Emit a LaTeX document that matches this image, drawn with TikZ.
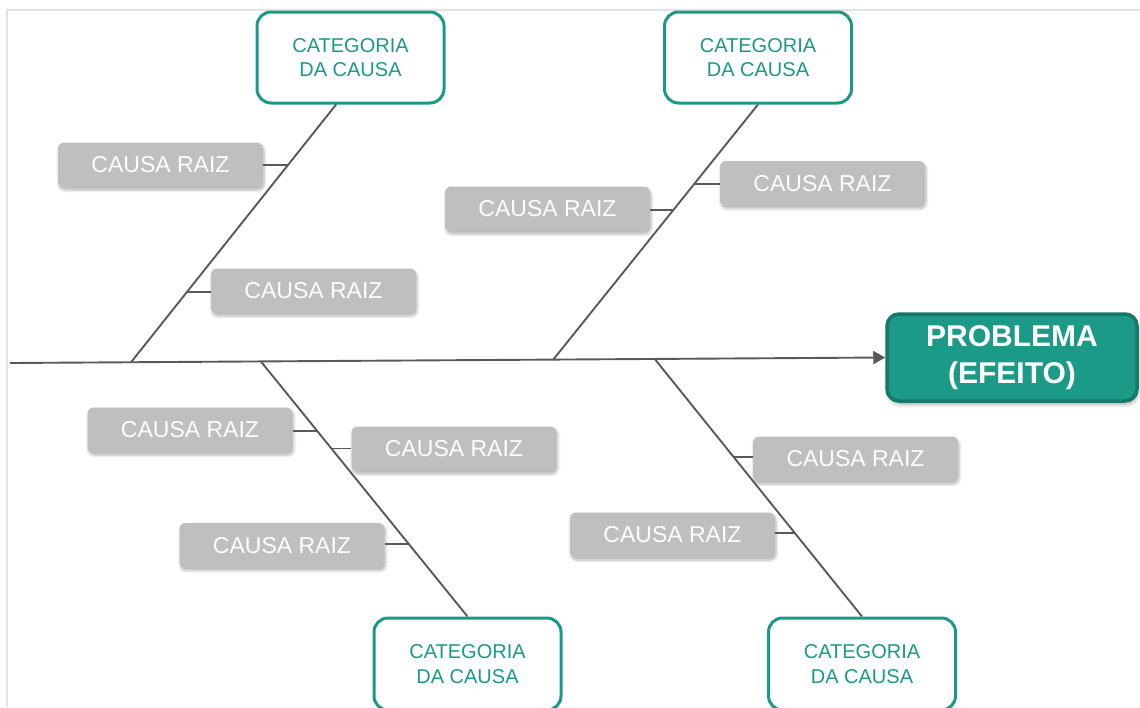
\documentclass[tikz,border=0pt]{standalone}
\usepackage{fontspec}
\setmainfont{Liberation Sans}
\usetikzlibrary{arrows.meta,calc,shadows.blur}

\definecolor{teal}{HTML}{1A9A86}
\definecolor{tealdark}{HTML}{16786A}
\definecolor{tealfill}{HTML}{1C9A88}
\definecolor{bone}{HTML}{595959}
\definecolor{causegray}{HTML}{BFBFBF}
\definecolor{frame}{HTML}{E4E4E4}

\begin{document}
\begin{tikzpicture}[x=1pt,y=-1pt,
  category/.style={draw=teal, line width=3pt, fill=white, rounded corners=14pt,
    minimum width=187pt, minimum height=91pt, align=center, text=teal,
    font=\fontsize{20}{24.5}\selectfont, inner sep=0pt},
  rootcause/.style={fill=causegray, rounded corners=6pt,
    minimum width=205pt, minimum height=45pt, text=white,
    font=\fontsize{23}{27}\selectfont, inner sep=0pt,
    blur shadow={shadow xshift=1pt, shadow yshift=-2.5pt, shadow blur radius=3pt,
      shadow blur steps=6, shadow opacity=30}},
  effect/.style={draw=tealdark, line width=3.5pt, fill=tealfill, rounded corners=12pt,
    minimum width=250pt, minimum height=87pt, align=center, text=white,
    font=\fontsize{30}{37}\selectfont\bfseries, inner sep=0pt,
    blur shadow={shadow xshift=1pt, shadow yshift=-3pt, shadow blur radius=4pt,
      shadow blur steps=6, shadow opacity=35}},
  boneline/.style={draw=bone, line width=1.9pt},
  stub/.style={draw=bone, line width=1.9pt}]

\useasboundingbox (0,0) rectangle (1140,707);

% light frame along the top and left edges
\draw[frame, line width=2pt] (7,707) -- (7,9.5) -- (1140,9.5);

% effect box at the head of the fish
\node[effect] (prob) at (1012,357.5) {PROBLEMA\\(EFEITO)};

% category boxes
\node[category] (cat1) at (350.5,57.5) {CATEGORIA\\DA CAUSA};
\node[category] (cat2) at (758,57.5) {CATEGORIA\\DA CAUSA};
\node[category, minimum height=92pt] (cat3) at (467.5,664) {CATEGORIA\\DA CAUSA};
\node[category, minimum height=92pt] (cat4) at (862,664) {CATEGORIA\\DA CAUSA};

% root cause boxes
\node[rootcause] (rc1) at (160.5,165) {CAUSA RAIZ};
\node[rootcause] (rc2) at (313.5,291) {CAUSA RAIZ};
\node[rootcause] (rc3) at (547.5,209) {CAUSA RAIZ};
\node[rootcause] (rc4) at (822.5,183.5) {CAUSA RAIZ};
\node[rootcause] (rc5) at (190,430) {CAUSA RAIZ};
\node[rootcause] (rc6) at (454,449) {CAUSA RAIZ};
\node[rootcause] (rc7) at (282,545.5) {CAUSA RAIZ};
\node[rootcause] (rc8) at (855.5,459) {CAUSA RAIZ};
\node[rootcause] (rc9) at (672.5,535) {CAUSA RAIZ};

% spine
\coordinate (tail) at (10,363);
\draw[boneline, -{Triangle[length=12pt,width=13pt]}] (tail) -- (prob.west);

% points where the bones leave the spine
\coordinate (s1) at (131,362.3);
\coordinate (s2) at (553,359.9);
\coordinate (s3) at (261,361.6);
\coordinate (s4) at (655,359.3);

% bones
\draw[boneline] (s1) -- (cat1.253.5);
\draw[boneline] (s2) -- (cat2.south);
\draw[boneline] (s3) -- (cat3.north);
\draw[boneline] (s4) -- (cat4.north);

% junctions of the small stubs on the bones
\coordinate (j1) at ($(s1)!0.765!(cat1.253.5)$);
\coordinate (j2) at ($(s1)!0.271!(cat1.253.5)$);
\coordinate (j3) at ($(s2)!0.588!(cat2.south)$);
\coordinate (j4) at ($(s2)!0.689!(cat2.south)$);
\coordinate (j5) at ($(s3)!0.271!(cat3.north)$);
\coordinate (j6) at ($(s3)!0.341!(cat3.north)$);
\coordinate (j7) at ($(s3)!0.715!(cat3.north)$);
\coordinate (j8) at ($(s4)!0.3815!(cat4.north)$);
\coordinate (j9) at ($(s4)!0.675!(cat4.north)$);

% stubs
\draw[stub] (j1) -- (j1 -| rc1.east);
\draw[stub] (j2) -- (j2 -| rc2.west);
\draw[stub] (j3) -- (j3 -| rc3.east);
\draw[stub] (j4) -- (j4 -| rc4.west);
\draw[stub] (j5) -- (j5 -| rc5.east);
\draw[stub] (j6) -- (j6 -| rc6.west);
\draw[stub] (j7) -- (j7 -| rc7.east);
\draw[stub] (j8) -- (j8 -| rc8.west);
\draw[stub] (j9) -- (j9 -| rc9.east);

\end{tikzpicture}
\end{document}
